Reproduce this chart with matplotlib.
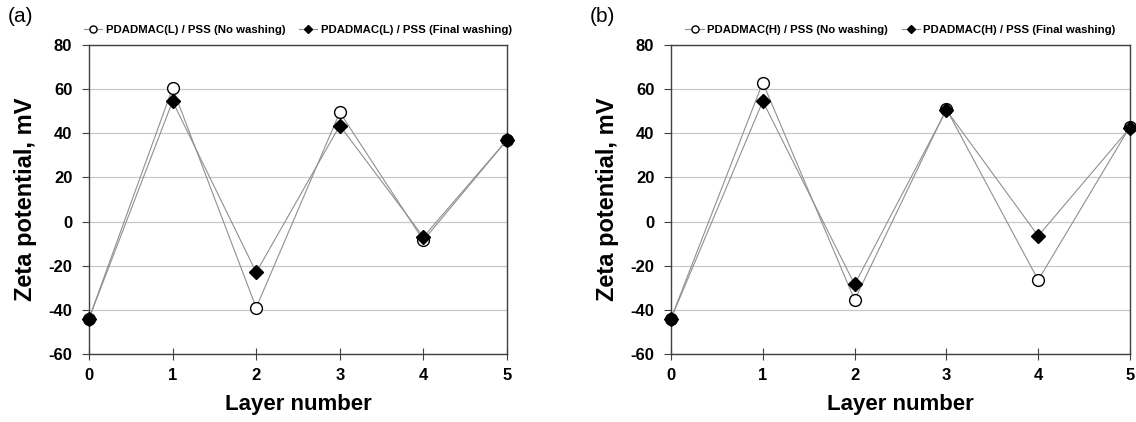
import matplotlib.pyplot as plt
import numpy as np

plt.rcParams['font.family'] = ['Liberation Sans', 'DejaVu Sans']
plt.rcParams['axes.unicode_minus'] = False

layers = [0, 1, 2, 3, 4, 5]

# (a) PDADMAC(L)
low_no_wash = [-44, 60.5, -39, 49.5, -8.5, 37]
low_final = [-44, 54.5, -23, 43.5, -7, 37]

# (b) PDADMAC(H)
high_no_wash = [-44, 63, -35.5, 51, -26.5, 43]
high_final = [-44, 54.5, -28.5, 50.5, -6.5, 42.5]

panels = [
    ('(a)', 'PDADMAC(L) / PSS', low_no_wash, low_final, [89, 507]),
    ('(b)', 'PDADMAC(H) / PSS', high_no_wash, high_final, [671, 1130]),
]

W, H = 1136, 422
fig = plt.figure(figsize=(W / 100, H / 100), dpi=100)

for tag, name, no_wash, final, (x0, x1) in panels:
    ax = fig.add_axes([x0 / W, 1 - 354 / H, (x1 - x0) / W, (354 - 45) / H])
    ax.plot(layers, no_wash, color='#909090', lw=0.8, marker='o', ms=8.5,
            mfc='white', mec='black', mew=1.0, clip_on=False, zorder=3,
            label=f'{name} (No washing)')
    ax.plot(layers, final, color='#909090', lw=0.8, marker='D', ms=7,
            mfc='black', mec='black', clip_on=False, zorder=4,
            label=f'{name} (Final washing)')

    ax.set_xlim(0, 5)
    ax.set_ylim(-60, 80)
    ax.set_yticks(np.arange(-60, 81, 20))
    ax.set_xticks(layers)
    ax.grid(axis='y', color='#c8c8c8', lw=0.9)
    ax.set_axisbelow(True)
    for s in ax.spines.values():
        s.set_color('#404040')
        s.set_linewidth(1.0)
    ax.tick_params(axis='y', direction='out', length=5, color='#404040',
                   labelsize=12, pad=7)
    ax.tick_params(axis='x', direction='inout', length=8, color='#404040',
                   labelsize=12, pad=6)
    for lab in ax.get_xticklabels() + ax.get_yticklabels():
        lab.set_fontweight('bold')

    ax.set_xlabel('Layer number', fontsize=16, fontweight='bold', labelpad=8)
    ax.set_ylabel('Zeta potential, mV', fontsize=17, fontweight='bold', labelpad=8)

    ax.legend(loc='lower center', bbox_to_anchor=(0.5, 1.0), ncol=2,
              frameon=False, prop={'weight': 'bold', 'size': 8.2},
              handlelength=1.6, handletextpad=0.3, columnspacing=1.2,
              markerscale=0.6)
    fig.text((x0 - 81) / W, 1 - 16 / H, tag, fontsize=15, va='center', ha='left')

fig.savefig('out.png', dpi=100)
